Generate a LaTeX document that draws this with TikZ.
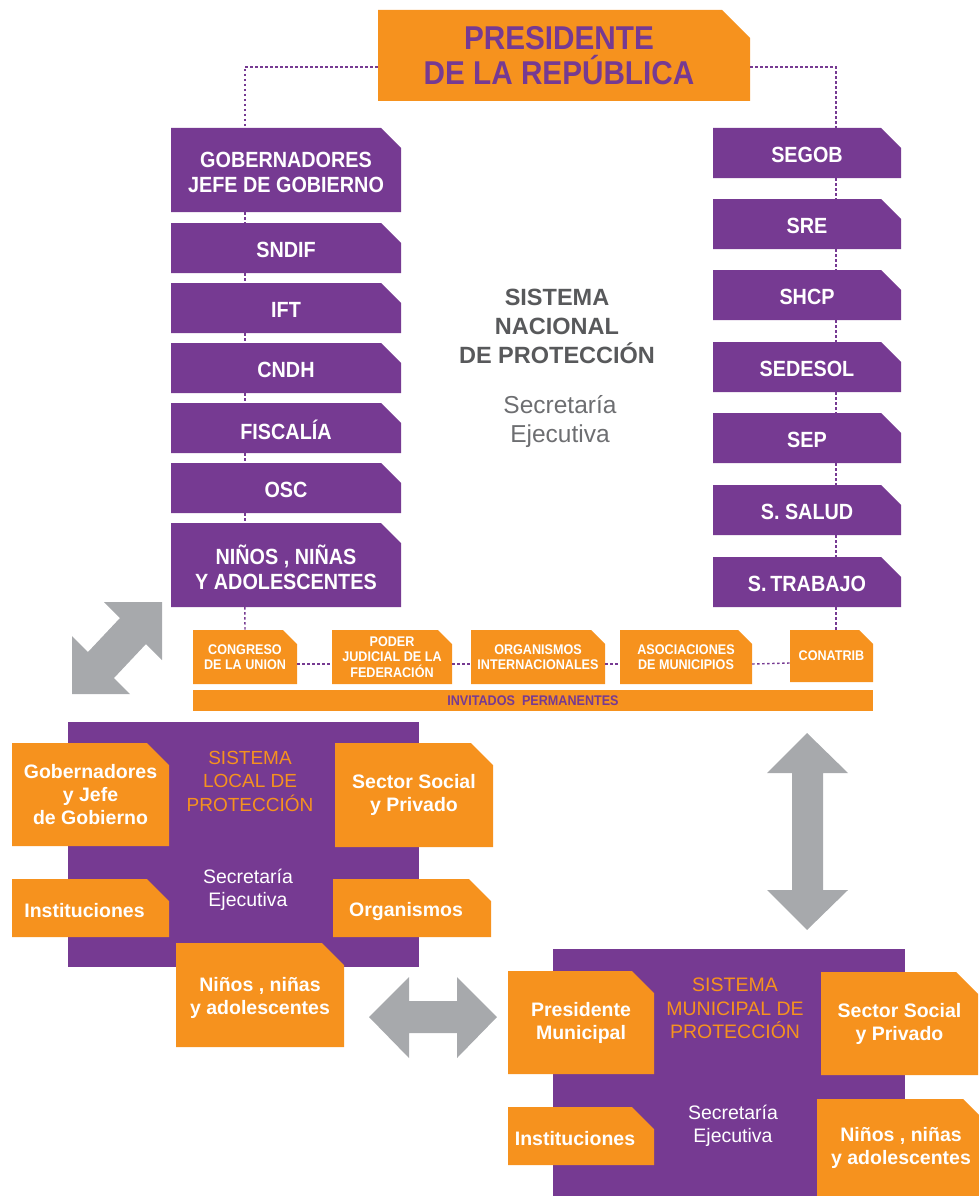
\documentclass[tikz,border=0pt]{standalone}
\usepackage{fontspec}
\setmainfont{Liberation Sans}
\newfontfamily\condf[FakeStretch=0.9]{Liberation Sans}
\usetikzlibrary{calc}
\definecolor{pur}{HTML}{763A92}
\definecolor{org}{HTML}{F6921E}
\definecolor{gry}{HTML}{A7A9AC}
\definecolor{dgry}{HTML}{58595B}
\definecolor{mgry}{HTML}{6D6E71}
% name, x1, y1, x2, y2, cut, fill, style, text
\newcommand\cbox[9]{%
  \fill[#7] (#2,-#3) -- ({#4-#6},-#3) -- (#4,{-#3-#6}) -- (#4,-#5) -- (#2,-#5) -- cycle;
  \node[inner sep=0pt, minimum width={(#4)-(#2)}, minimum height={(#5)-(#3)}] (#1) at ({(#2+#4)/2},{-(#3+#5)/2}) {};
  \node[#8] at (#1.center) {#9};
}
\tikzset{
  ptxt/.style={text=white, align=center, yshift=-2pt, font=\condf\bfseries\fontsize{22}{25}\selectfont},
  stxt/.style={text=white, align=center, font=\condf\bfseries\fontsize{14}{15.5}\selectfont},
  otxt/.style={text=white, align=center, font=\bfseries\fontsize{19.5}{23}\selectfont},
  otxtl/.style={otxt, yshift=-3pt},
  otxts/.style={otxt, yshift=-3pt, xshift=-6pt},
  dotline/.style={draw=pur, line width=1.4pt, dash pattern=on 2.5pt off 2.5pt},
}
\begin{document}
\begin{tikzpicture}[x=1pt,y=1pt]
\useasboundingbox (0,0) rectangle (978,-1196);
% President
\cbox{pres}{378}{10}{750}{101}{28}{org}{text=pur, align=center, font=\condf\bfseries\fontsize{33}{35}\selectfont, xshift=-5pt}{PRESIDENTE\\DE LA REPÚBLICA}
% left column
\cbox{gob}{171}{128}{401}{212}{20}{pur}{ptxt}{GOBERNADORES\\JEFE DE GOBIERNO}
\cbox{sndif}{171}{223}{401}{273}{20}{pur}{ptxt}{SNDIF}
\cbox{ift}{171}{283}{401}{333}{20}{pur}{ptxt}{IFT}
\cbox{cndh}{171}{343}{401}{393}{20}{pur}{ptxt}{CNDH}
\cbox{fisc}{171}{403}{401}{453}{20}{pur}{ptxt}{FISCALÍA}
\cbox{osc}{171}{463}{401}{513}{20}{pur}{ptxt}{OSC}
\cbox{nna}{171}{523}{401}{607}{20}{pur}{ptxt}{NIÑOS , NIÑAS\\Y ADOLESCENTES}
% right column
\cbox{segob}{713}{128}{901}{178}{20}{pur}{ptxt}{SEGOB}
\cbox{sre}{713}{199}{901}{249}{20}{pur}{ptxt}{SRE}
\cbox{shcp}{713}{270}{901}{320}{20}{pur}{ptxt}{SHCP}
\cbox{sedesol}{713}{342}{901}{392}{20}{pur}{ptxt}{SEDESOL}
\cbox{sep}{713}{413}{901}{463}{20}{pur}{ptxt}{SEP}
\cbox{salud}{713}{485}{901}{535}{20}{pur}{ptxt}{S. SALUD}
\cbox{trab}{713}{557}{901}{607}{20}{pur}{ptxt}{S.\,TRABAJO}
% centre title
\node[text=dgry, align=center, font=\bfseries\fontsize{23.5}{29}\selectfont] (snp) at (557,-326) {SISTEMA\\NACIONAL\\DE PROTECCIÓN};
\node[text=mgry, align=center, font=\fontsize{24.5}{29}\selectfont] (sen) at (560,-422) {Secretaría\\Ejecutiva};
% small orange boxes
\cbox{cong}{193}{630}{297}{684}{14}{org}{stxt}{CONGRESO\\DE LA UNION}
\cbox{poder}{332}{630}{452}{684}{14}{org}{stxt}{PODER\\JUDICIAL DE LA\\FEDERACIÓN}
\cbox{orgi}{471}{630}{605}{684}{14}{org}{stxt}{ORGANISMOS\\INTERNACIONALES}
\cbox{asoc}{620}{630}{752}{684}{14}{org}{stxt}{ASOCIACIONES\\DE MUNICIPIOS}
\cbox{conat}{790}{630}{873}{682}{14}{org}{stxt}{CONATRIB}
\fill[org] (193,-690) rectangle (873,-711);
\node[text=pur, font=\condf\bfseries\fontsize{14}{15}\selectfont] (inv) at (533,-701) {INVITADOS\ \ PERMANENTES};
% dotted connectors
\draw[dotline] ([yshift=-11.5pt]pres.west) -| ([xshift=74pt]gob.north west);
\draw[dotline] ([yshift=-11.5pt]pres.east) -| ([xshift=123pt]segob.north west);
\foreach \a/\b in {gob/sndif,sndif/ift,ift/cndh,cndh/fisc,fisc/osc,osc/nna}
  \draw[dotline] ([xshift=74pt]\a.south west) -- ([xshift=74pt]\b.north west);
\draw[dotline] ([xshift=74pt]nna.south west) -- (cong.north);
\foreach \a/\b in {segob/sre,sre/shcp,shcp/sedesol,sedesol/sep,sep/salud,salud/trab}
  \draw[dotline] ([xshift=123pt]\a.south west) -- ([xshift=123pt]\b.north west);
\draw[dotline] ([xshift=123pt]trab.south west) -- ([xshift=46pt]conat.north west);
\foreach \a/\b in {cong/poder,poder/orgi,orgi/asoc,asoc/conat}
  \draw[dotline] ([yshift=-7pt]\a.east) -- ([yshift=-7pt]\b.west);
% arrows
\fill[gry] (162,-602) -- (104,-602) -- (120,-618) -- (88,-652) -- (72,-636) -- (72,-694) -- (130,-694) -- (114,-678) -- (146,-644) -- (162,-660) -- cycle;
\fill[gry] (807,-733) -- (848,-773) -- (823,-773) -- (823,-890) -- (848,-890) -- (807,-930) -- (767,-890) -- (792,-890) -- (792,-773) -- (767,-773) -- cycle;
\fill[gry] (369,-1017) -- (409,-977) -- (409,-1001) -- (457,-1001) -- (457,-977) -- (497,-1017) -- (457,-1058) -- (457,-1033) -- (409,-1033) -- (409,-1058) -- cycle;
% local system
\fill[pur] (68,-722) rectangle (419,-967);
\node[text=org, align=center, font=\fontsize{19}{23.5}\selectfont] (sll) at (250,-781) {SISTEMA\\LOCAL DE\\PROTECCIÓN};
\node[text=white, align=center, font=\fontsize{19.5}{23}\selectfont] (sel) at (248,-890) {Secretaría\\Ejecutiva};
\cbox{gobl}{12}{743}{169}{846}{22}{org}{otxt}{Gobernadores\\y Jefe\\de Gobierno}
\cbox{sectl}{335}{743}{493}{847}{22}{org}{otxt}{Sector Social\\y Privado}
\cbox{instl}{12}{879}{169}{937}{22}{org}{otxts}{Instituciones}
\cbox{orgl}{333}{879}{491}{937}{22}{org}{otxts}{Organismos}
\cbox{ninl}{176}{943}{344}{1047}{22}{org}{otxtl}{Niños , niñas\\y adolescentes}
% municipal system
\fill[pur] (553,-949) rectangle (905,-1196);
\node[text=org, align=center, font=\fontsize{19.5}{23.5}\selectfont] (smm) at (735,-1008.5) {SISTEMA\\MUNICIPAL DE\\PROTECCIÓN};
\node[text=white, align=center, font=\fontsize{19.5}{23}\selectfont] (sem) at (733,-1126) {Secretaría\\Ejecutiva};
\cbox{presm}{508}{971}{654}{1074}{22}{org}{otxt}{Presidente\\Municipal}
\cbox{sectm}{821}{972}{978}{1075}{22}{org}{otxt}{Sector Social\\y Privado}
\cbox{instm}{508}{1107}{654}{1165}{22}{org}{otxts}{Instituciones}
\cbox{ninm}{817}{1099}{985}{1196}{22}{org}{otxt}{Niños , niñas\\y adolescentes}
\end{tikzpicture}
\end{document}
